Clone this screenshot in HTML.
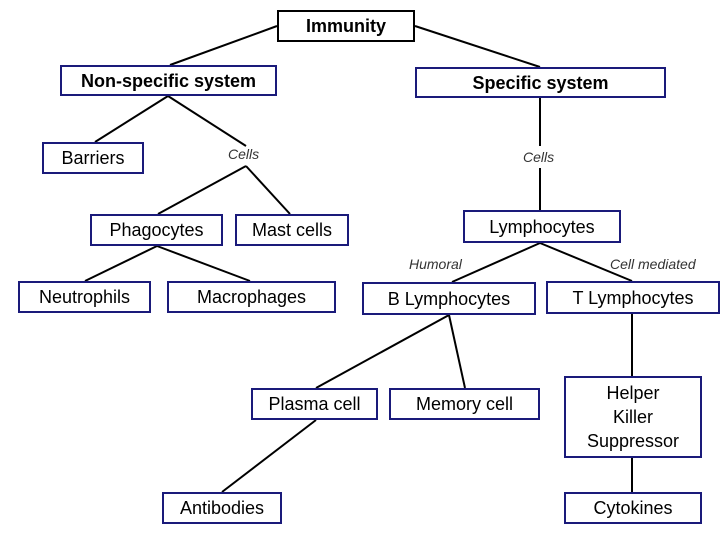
<!DOCTYPE html>
<html><head><style>
body{margin:0;width:720px;height:540px;background:#fff;position:relative;overflow:hidden;font-family:"Liberation Sans",Arial,sans-serif}
.b{position:absolute;box-sizing:border-box;border:2px solid #1a1a7a;display:flex;align-items:center;justify-content:center;font-size:18px;color:#000;text-align:center;line-height:24px;background:#fff}
.l{position:absolute;font-style:italic;font-size:14px;color:#333}
svg{position:absolute;left:0;top:0}
</style></head><body>
<svg width="720" height="540" stroke="#000" stroke-width="2">
<line x1="277" y1="26" x2="170" y2="65"/><line x1="415" y1="26" x2="540" y2="67"/>
<line x1="168" y1="96" x2="95" y2="142"/><line x1="168" y1="96" x2="246" y2="146"/>
<line x1="246" y1="166" x2="158" y2="214"/><line x1="246" y1="166" x2="290" y2="214"/>
<line x1="540" y1="98" x2="540" y2="146"/><line x1="540" y1="168" x2="540" y2="210"/>
<line x1="157" y1="246" x2="85" y2="281"/><line x1="157" y1="246" x2="250" y2="281"/>
<line x1="540" y1="243" x2="452" y2="282"/><line x1="540" y1="243" x2="632" y2="281"/>
<line x1="449" y1="315" x2="316" y2="388"/><line x1="449" y1="315" x2="465" y2="388"/>
<line x1="316" y1="420" x2="222" y2="492"/>
<line x1="632" y1="314" x2="632" y2="376"/><line x1="632" y1="458" x2="632" y2="492"/>
</svg>
<div class="b" style="left:277px;top:10px;width:138px;height:32px;border-color:#000;font-weight:bold">Immunity</div>
<div class="b" style="left:60px;top:65px;width:217px;height:31px;font-weight:bold">Non-specific system</div>
<div class="b" style="left:415px;top:67px;width:251px;height:31px;font-weight:bold">Specific system</div>
<div class="b" style="left:42px;top:142px;width:102px;height:32px">Barriers</div>
<div class="l" style="left:228px;top:146px">Cells</div>
<div class="l" style="left:523px;top:149px">Cells</div>
<div class="b" style="left:90px;top:214px;width:133px;height:32px">Phagocytes</div>
<div class="b" style="left:235px;top:214px;width:114px;height:32px">Mast cells</div>
<div class="b" style="left:463px;top:210px;width:158px;height:33px">Lymphocytes</div>
<div class="l" style="left:409px;top:256px">Humoral</div>
<div class="l" style="left:610px;top:256px">Cell mediated</div>
<div class="b" style="left:18px;top:281px;width:133px;height:32px">Neutrophils</div>
<div class="b" style="left:167px;top:281px;width:169px;height:32px">Macrophages</div>
<div class="b" style="left:362px;top:282px;width:174px;height:33px">B Lymphocytes</div>
<div class="b" style="left:546px;top:281px;width:174px;height:33px">T Lymphocytes</div>
<div class="b" style="left:251px;top:388px;width:127px;height:32px">Plasma cell</div>
<div class="b" style="left:389px;top:388px;width:151px;height:32px">Memory cell</div>
<div class="b" style="left:564px;top:376px;width:138px;height:82px">Helper<br>Killer<br>Suppressor</div>
<div class="b" style="left:162px;top:492px;width:120px;height:32px">Antibodies</div>
<div class="b" style="left:564px;top:492px;width:138px;height:32px">Cytokines</div>
</body></html>
